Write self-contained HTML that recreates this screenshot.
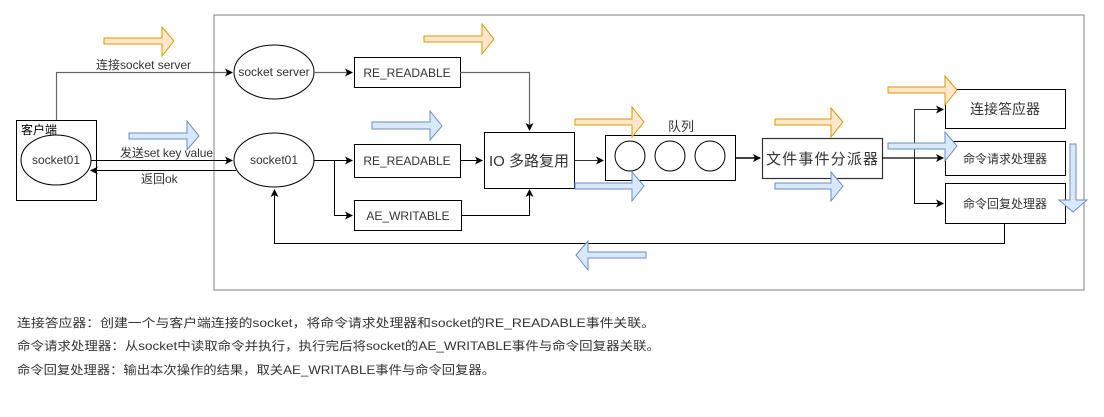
<!DOCTYPE html>
<html><head><meta charset="utf-8"><style>
html,body{margin:0;padding:0;background:#fff;}
svg{display:block;font-family:"Liberation Sans","Noto Sans CJK SC",sans-serif;}
</style></head><body>
<svg width="1104" height="417" viewBox="0 0 1104 417" xmlns="http://www.w3.org/2000/svg">
<defs>
<marker id="a" markerWidth="8" markerHeight="8" refX="7" refY="4" orient="auto" markerUnits="userSpaceOnUse"><path d="M0,0 L8,4 L0,8 L2,4 z" fill="#000"/></marker>
</defs>
<rect x="214" y="15" width="870" height="275" fill="none" stroke="#808080" stroke-width="1"/>
<!-- client -->
<rect x="16.5" y="120.5" width="80" height="80" fill="#fff" stroke="#000"/>
<text x="21" y="134" font-size="12">客户端</text>
<ellipse cx="56" cy="160" rx="35" ry="25" fill="#fff" stroke="#000"/>
<text x="56" y="164" font-size="12" text-anchor="middle" fill="#333">socket01</text>
<!-- connect line -->
<path d="M56.5,120 V72.5 H232" fill="none" stroke="#666" stroke-width="1.2" marker-end="url(#a)"/>
<text x="96" y="69" font-size="12" fill="#333" textLength="95">连接socket server</text>
<ellipse cx="274" cy="72" rx="40" ry="27" fill="#fff" stroke="#000"/>
<text x="274" y="76" font-size="12" text-anchor="middle" fill="#333">socket server</text>
<path d="M314,72.5 H352" fill="none" stroke="#666" stroke-width="1.2" marker-end="url(#a)"/>
<rect x="354.5" y="57.5" width="106" height="30" fill="#fff" stroke="#000"/>
<text x="407" y="77" font-size="12" text-anchor="middle" fill="#333">RE_READABLE</text>
<path d="M460,72.5 H529.5 V130" fill="none" stroke="#666" stroke-width="1.2" marker-end="url(#a)"/>
<!-- send/return -->
<path d="M91,160.5 H232" fill="none" stroke="#000" marker-end="url(#a)"/>
<text x="120" y="157" font-size="12" fill="#333" textLength="93">发送set key value</text>
<path d="M236,170.5 H91" fill="none" stroke="#000" marker-end="url(#a)"/>
<text x="141" y="183" font-size="12" fill="#333">返回ok</text>
<ellipse cx="274" cy="160" rx="40" ry="27" fill="#fff" stroke="#000"/>
<text x="274" y="164" font-size="12" text-anchor="middle" fill="#333">socket01</text>
<path d="M314,160.5 H352" fill="none" stroke="#000" marker-end="url(#a)"/>
<path d="M334.5,160.5 V215.5 H352" fill="none" stroke="#000" marker-end="url(#a)"/>
<rect x="354.5" y="144.5" width="106" height="33" fill="#fff" stroke="#000"/>
<text x="407" y="165" font-size="12" text-anchor="middle" fill="#333">RE_READABLE</text>
<rect x="354.5" y="200.5" width="107" height="30" fill="#fff" stroke="#000"/>
<text x="408" y="220" font-size="12" text-anchor="middle" fill="#333">AE_WRITABLE</text>
<path d="M460,160.5 H482" fill="none" stroke="#000" marker-end="url(#a)"/>
<path d="M461,215.5 H529.5 V190" fill="none" stroke="#000" marker-end="url(#a)"/>
<rect x="484.5" y="132.5" width="90" height="56" fill="#fff" stroke="#000"/>
<text x="529" y="166" font-size="15" text-anchor="middle" fill="#333">IO 多路复用</text>
<path d="M575,160.5 H603" fill="none" stroke="#333" marker-end="url(#a)"/>
<!-- queue -->
<text x="681" y="131" font-size="13" text-anchor="middle" fill="#333">队列</text>
<rect x="605.5" y="135.5" width="130" height="45" fill="#fff" stroke="#000"/>
<circle cx="630" cy="156" r="15" fill="#fff" stroke="#000"/>
<circle cx="670" cy="156" r="15" fill="#fff" stroke="#000"/>
<circle cx="710" cy="156" r="15" fill="#fff" stroke="#000"/>
<path d="M735,158 H760" fill="none" stroke="#000" stroke-width="1.5" marker-end="url(#a)"/>
<rect x="762.5" y="138.5" width="120" height="40" fill="#fff" stroke="#333" stroke-width="1.2"/>
<text x="822" y="164" font-size="15" text-anchor="middle" fill="#333" textLength="112">文件事件分派器</text>
<path d="M882,158 H943" fill="none" stroke="#000" stroke-width="1.2" marker-end="url(#a)"/>
<path d="M914.5,158 V109.5 H943" fill="none" stroke="#333" marker-end="url(#a)"/>
<path d="M914.5,158 V203.5 H943" fill="none" stroke="#000" marker-end="url(#a)"/>
<rect x="945.5" y="89.5" width="120" height="39" fill="#fff" stroke="#000"/>
<text x="1005" y="114" font-size="14" text-anchor="middle" fill="#333">连接答应器</text>
<rect x="945.5" y="141.5" width="120" height="34" fill="#fff" stroke="#000"/>
<text x="1005" y="163" font-size="12" text-anchor="middle" fill="#333">命令请求处理器</text>
<rect x="945.5" y="183.5" width="120" height="40" fill="#fff" stroke="#000"/>
<text x="1005" y="208" font-size="12" text-anchor="middle" fill="#333">命令回复处理器</text>
<path d="M1004.5,223 V243.5 H274.5 V190" fill="none" stroke="#000" marker-end="url(#a)"/>
<!-- orange arrows -->
<g fill="#ffe6cc" stroke="#d79b00">
<polygon points="104,38 162,38 162,27 174,41 162,56 162,44 104,44"/>
<polygon points="424,36 482,36 482,24 494,39 482,54 482,42 424,42"/>
<polygon points="575,119 632,119 632,107 644,122 632,137 632,125 575,125"/>
<polygon points="775,119 831,119 831,108 843,122 831,137 831,125 775,125"/>
<polygon points="888,87 945,87 945,76 957,90 945,105 945,93 888,93"/>
</g>
<!-- blue arrows -->
<g fill="#dae8fc" stroke="#6c8ebf">
<polygon points="129,133 187,133 187,121 199,136 187,150 187,139 129,139"/>
<polygon points="372,122 430,122 430,111 442,126 430,140 430,129 372,129"/>
<polygon points="575,183 632,183 632,172 644,186 632,201 632,189 575,189"/>
<polygon points="775,183 831,183 831,172 843,186 831,201 831,189 775,189"/>
<polygon points="888,143 945,143 945,132 957,146 945,161 945,149 888,149"/>
<polygon points="646,252 588,252 588,241 576,255 588,270 588,258 646,258"/>
<polygon points="1070,144 1076,144 1076,200 1087,200 1073,212 1059,200 1070,200"/>
</g>
<!-- description -->
<g font-size="12" fill="#333">
<text x="17" y="327" textLength="638" lengthAdjust="spacingAndGlyphs">连接答应器：创建一个与客户端连接的socket，将命令请求处理器和socket的RE_READABLE事件关联。</text>
<text x="17" y="350" textLength="643" lengthAdjust="spacingAndGlyphs">命令请求处理器：从socket中读取命令并执行，执行完后将socket的AE_WRITABLE事件与命令回复器关联。</text>
<text x="17" y="374" textLength="478" lengthAdjust="spacingAndGlyphs">命令回复处理器：输出本次操作的结果，取关AE_WRITABLE事件与命令回复器。</text>
</g>
</svg>
</body></html>
